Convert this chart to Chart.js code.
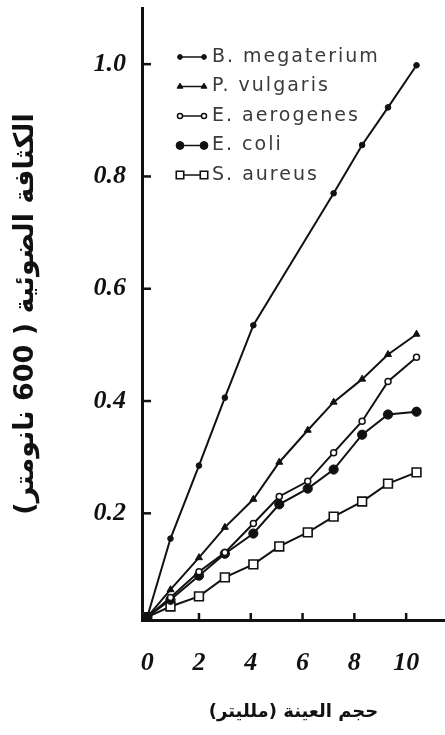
<!DOCTYPE html>
<html lang="ar">
<head>
<meta charset="utf-8">
<title>Optical density vs sample volume</title>
<script src="https://cdn.jsdelivr.net/npm/chart.js@4/dist/chart.umd.min.js"></script>
<style>
  html, body { margin: 0; padding: 0; background: #ffffff; }
  #wrap { width: 445px; height: 735px; }
</style>
</head>
<body>
<div id="wrap"><canvas id="odChart" width="445" height="735"></canvas></div>
<script>
// sample volume (ml) read against the printed x axis
const volumes = [0, 0.9, 2.0, 3.0, 4.1, 5.1, 6.2, 7.2, 8.3, 9.3, 10.4];

// optical density at 600 nm
const bMegaterium = [0.015, 0.155, 0.285, 0.406, 0.535, null, null, 0.77, 0.856, 0.923, 0.998];
const pVulgaris = [0.015, 0.064, 0.121, 0.175, 0.225, 0.291, 0.348, 0.398, 0.439, 0.483, 0.519];
const eAerogenes = [0.015, 0.05, 0.096, 0.13, 0.182, 0.23, 0.257, 0.308, 0.364, 0.435, 0.478];
const eColi = [0.015, 0.046, 0.089, 0.128, 0.164, 0.216, 0.244, 0.278, 0.34, 0.376, 0.381];
const sAureus = [0.015, 0.034, 0.052, 0.086, 0.109, 0.141, 0.166, 0.194, 0.221, 0.253, 0.273];

const seriesLabels = ["B. megaterium", "P. vulgaris", "E. aerogenes", "E. coli", "S. aureus"];
const seriesValues = [bMegaterium, pVulgaris, eAerogenes, eColi, sAureus];

const xTickValues = [0, 2, 4, 6, 8, 10];
const yTickValues = [0.2, 0.4, 0.6, 0.8, 1.0];

const xTitle = "حجم العينة (ملليتر)";
const yTitle = "الكثافة الضوئية ( 600 نانومتر)";

const INK = "#111111";
const markers = [
  { style: "circle", radius: 2.8, fill: INK, border: 1 },
  { style: "triangle", radius: 4, fill: INK, border: 1 },
  { style: "circle", radius: 3, fill: "#ffffff", border: 1.5 },
  { style: "circle", radius: 4.6, fill: INK, border: 1 },
  { style: "rect", radius: 6.2, fill: "#ffffff", border: 1.6 },
];

const datasets = seriesLabels.map((label, i) => ({
  label,
  data: volumes.map((v, j) => ({ x: v, y: seriesValues[i][j] })),
  borderColor: INK,
  borderWidth: 2,
  tension: 0,
  spanGaps: true,
  pointStyle: markers[i].style,
  pointRadius: markers[i].radius,
  pointBackgroundColor: markers[i].fill,
  pointBorderColor: INK,
  pointBorderWidth: markers[i].border,
}));

// short tick marks pointing into the plot, like the printed figure
const innerTicks = {
  id: "innerTicks",
  afterDraw(chart) {
    const { ctx, chartArea, scales } = chart;
    ctx.save();
    ctx.strokeStyle = INK;
    ctx.lineWidth = 2.5;
    scales.y.ticks.forEach((t) => {
      const y = scales.y.getPixelForValue(t.value);
      ctx.beginPath();
      ctx.moveTo(chartArea.left, y);
      ctx.lineTo(chartArea.left + 9, y);
      ctx.stroke();
    });
    scales.x.ticks.forEach((t) => {
      if (t.value === 0) return;
      const x = scales.x.getPixelForValue(t.value);
      ctx.beginPath();
      ctx.moveTo(x, chartArea.bottom + 2);
      ctx.lineTo(x, chartArea.bottom - 7);
      ctx.stroke();
    });
    ctx.restore();
  },
};

// legend sits inside the plot, top left
const inlineLegend = {
  id: "inlineLegend",
  afterDraw(chart) {
    const { ctx, chartArea } = chart;
    const x0 = chartArea.left + 38;
    const x1 = x0 + 24;
    ctx.save();
    ctx.textBaseline = "middle";
    chart.data.datasets.forEach((ds, i) => {
      const y = chartArea.top + 49 + i * 29.5;
      ctx.strokeStyle = INK;
      ctx.lineWidth = 1.5;
      ctx.beginPath();
      ctx.moveTo(x0, y);
      ctx.lineTo(x1, y);
      ctx.stroke();
      const m = markers[i];
      const opts = { pointStyle: m.style, radius: m.radius * 0.85, borderWidth: m.border, rotation: 0 };
      ctx.fillStyle = m.fill;
      ctx.lineWidth = m.border;
      Chart.helpers.drawPoint(ctx, opts, x0, y);
      ctx.fillStyle = m.fill;
      Chart.helpers.drawPoint(ctx, opts, x1, y);
      ctx.font = '19px "DejaVu Sans"';
      ctx.letterSpacing = "2px";
      ctx.fillStyle = "#3a3a3a";
      ctx.fillText(ds.label, x1 + 8, y);
    });
    ctx.restore();
  },
};

const tickFont = { family: '"Liberation Serif", "DejaVu Serif", serif', size: 26, style: "italic", weight: "bold" };

new Chart(document.getElementById("odChart"), {
  type: "line",
  data: { datasets },
  options: {
    responsive: false,
    animation: false,
    layout: { autoPadding: false, padding: { top: 8, right: 0, bottom: 0, left: 0 } },
    plugins: {
      legend: { display: false },
      tooltip: { enabled: false },
    },
    scales: {
      x: {
        type: "linear",
        min: -0.2,
        max: 11.5,
        afterBuildTicks: (scale) => {
          scale.ticks = xTickValues.map((v) => ({ value: v }));
        },
        afterFit: (scale) => {
          scale.height = 115;
          scale.paddingLeft = 0;
          scale.paddingRight = 0;
        },
        grid: { display: false, drawTicks: false },
        border: { display: true, color: INK, width: 3 },
        ticks: {
          color: INK,
          font: tickFont,
          padding: 28,
          maxRotation: 0,
          callback: (v) => String(v),
        },
        title: {
          display: true,
          text: xTitle,
          color: INK,
          font: { family: '"DejaVu Sans", sans-serif', size: 18, weight: "bold" },
          padding: { top: 0, bottom: 12 },
        },
      },
      y: {
        type: "linear",
        min: 0.01,
        max: 1.1,
        afterBuildTicks: (scale) => {
          scale.ticks = yTickValues.map((v) => ({ value: v }));
        },
        afterFit: (scale) => {
          scale.width = 142;
          scale.paddingTop = 0;
          scale.paddingBottom = 0;
        },
        grid: { display: false, drawTicks: false },
        border: { display: true, color: INK, width: 3 },
        ticks: {
          color: INK,
          font: tickFont,
          padding: 16,
          callback: (v) => Number(v).toFixed(1),
        },
        title: {
          display: true,
          text: yTitle,
          color: INK,
          font: { family: '"DejaVu Sans", sans-serif', size: 27, weight: "bold" },
          padding: { top: 10, bottom: 0 },
        },
      },
    },
  },
  plugins: [innerTicks, inlineLegend],
});
</script>
</body>
</html>
